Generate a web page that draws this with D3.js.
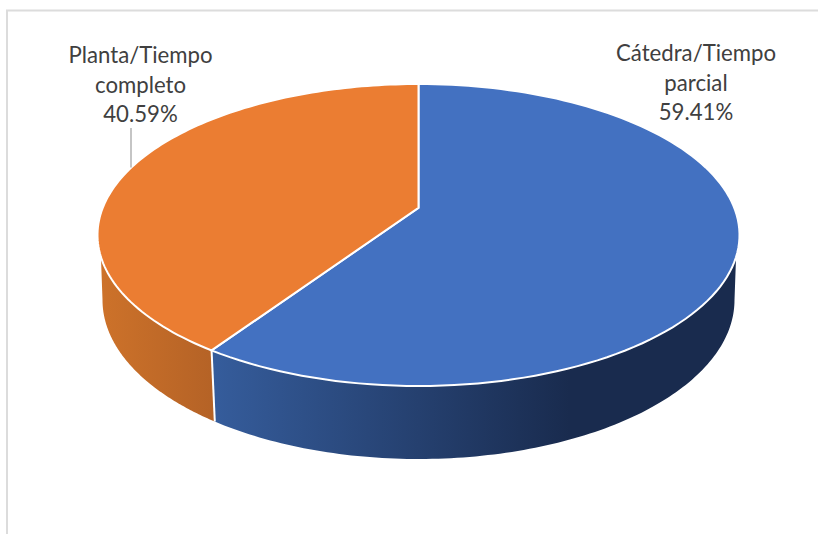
<!DOCTYPE html>
<html>
<head>
<meta charset="utf-8">
<script src="https://cdn.jsdelivr.net/npm/d3@7"></script>
<style>
  html, body { margin: 0; padding: 0; background: #fff; }
  svg { display: block; }
  text { font-family: Lato, "Open Sans", sans-serif; fill: #404040; }
</style>
</head>
<body>
<div id="chart"></div>
<script>
// Share of teaching staff by contract type
const categories = ["Cátedra/Tiempo parcial", "Planta/Tiempo completo"];
const shares = [59.41, 40.59];
const labelLines = [["Cátedra/Tiempo", "parcial"], ["Planta/Tiempo", "completo"]];
const topColors = ["#4371C1", "#EB7D32"];
const sideStops = [
  [["0%", "#355C9B"], ["100%", "#192B4E"]],
  [["0%", "#CD722A"], ["100%", "#B46226"]]
];

const width = 818, height = 534;

const svg = d3.select("#chart").append("svg")
  .attr("width", width).attr("height", height);

// Unit-disc coordinates to the upper face and to the lower rim of the disc
const topX = d3.scaleLinear([-1, 1], [97.5, 739.5]);
const topY = d3.scaleLinear([-1, 1], [84, 386]);
const baseX = d3.scaleLinear([-1, 1], [102.5, 734.5]);
const baseY = d3.scaleLinear([-1, 1], [141, 459]);

// Perspective tilt: moves the disc's centre away from the ellipse's centre
const tilt = -0.18;
function project(angle) {
  const u = Math.sin(angle), v = -Math.cos(angle);
  const d = 1 + tilt * v;
  return [u * Math.sqrt(1 - tilt * tilt) / d, (v + tilt) / d];
}
// Angle on the right-hand half of the circle that lands at a projected height
const angleAtHeight = vp => Math.acos(-(vp - tilt) / (1 - tilt * vp));

const line = d3.line();
const sweep = (a0, a1) => d3.range(0, 121).map(i => a0 + (a1 - a0) * i / 120);
const onTop = a => { const [u, v] = project(a); return [topX(u), topY(v)]; };
const onBase = a => { const [u, v] = project(a); return [baseX(u), baseY(v)]; };

const arcs = d3.pie().sort(null)(shares);

// Horizontal shading of the side wall
const defs = svg.append("defs");
const gradientSpans = [[216, 570], [100, 216]];
sideStops.forEach((stops, i) => {
  const g = defs.append("linearGradient")
    .attr("id", "side" + i)
    .attr("gradientUnits", "userSpaceOnUse")
    .attr("x1", gradientSpans[i][0]).attr("x2", gradientSpans[i][1])
    .attr("y1", 0).attr("y2", 0);
  stops.forEach(s => g.append("stop").attr("offset", s[0]).attr("stop-color", s[1]));
});

// Frame: top and left edges only, the rest falls outside the page
svg.append("path")
  .attr("d", line([[7, height], [7, 10.5], [width, 10.5]]))
  .attr("fill", "none").attr("stroke", "#DCDCDC").attr("stroke-width", 2);

// Side walls
const rimTop = angleAtHeight(0.146), rimBase = angleAtHeight(0);
const tau = 2 * Math.PI;
const sideRanges = [
  { top: [rimTop, arcs[0].endAngle], base: [rimBase, arcs[0].endAngle] },
  { top: [arcs[1].startAngle, tau - rimTop], base: [arcs[1].startAngle, tau - rimBase] }
];
svg.append("g").selectAll("path").data(sideRanges).join("path")
  .attr("d", r => line([
    ...sweep(r.top[0], r.top[1]).map(onTop),
    ...sweep(r.base[1], r.base[0]).map(onBase)
  ]) + "Z")
  .attr("fill", (r, i) => `url(#side${i})`);

// White seam between the two walls
svg.append("path")
  .attr("d", line([onTop(arcs[0].endAngle), onBase(arcs[0].endAngle)]))
  .attr("stroke", "#fff").attr("stroke-width", 2).attr("fill", "none");

// Upper face
const hub = [topX(0), topY(tilt)];
svg.append("g").selectAll("path").data(arcs).join("path")
  .attr("d", d => line([hub, ...sweep(d.startAngle, d.endAngle).map(onTop)]) + "Z")
  .attr("fill", (d, i) => topColors[i])
  .attr("stroke", "#fff").attr("stroke-width", 2).attr("stroke-linejoin", "miter");

// Leader line for the left label
svg.append("path")
  .attr("d", line([[131, 128], [131, 167.5]]))
  .attr("stroke", "#A6A6A6").attr("stroke-width", 1.3).attr("fill", "none");

// Data labels
const labelPos = [[696, 61], [140.5, 63]];
const lineGap = 29.5;
const labels = svg.append("g").selectAll("text").data(arcs).join("text")
  .attr("text-anchor", "middle")
  .attr("font-size", 22.2)
  .attr("aria-label", (d, i) => categories[i]);
labels.each(function (d, i) {
  const rows = [...labelLines[i], d3.format(".2f")(d.data) + "%"];
  d3.select(this).selectAll("tspan").data(rows).join("tspan")
    .attr("x", labelPos[i][0])
    .attr("y", (r, j) => labelPos[i][1] + j * lineGap)
    .text(r => r);
});
</script>
</body>
</html>
